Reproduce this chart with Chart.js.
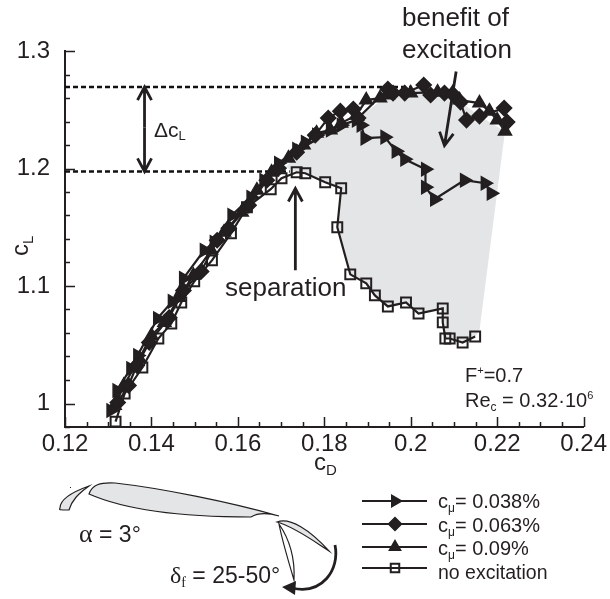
<!DOCTYPE html>
<html>
<head>
<meta charset="utf-8">
<style>
  html, body { margin: 0; padding: 0; background: #fff; }
  canvas { display: block; }
</style>
<script src="https://cdn.jsdelivr.net/npm/chart.js@4"></script>
</head>
<body>
<canvas id="grafico" width="610" height="599"></canvas>
<script>
// series (cD, cL)
const cd038 = [0.1306, 0.132, 0.1352, 0.1368, 0.1414, 0.1448, 0.1474, 0.1522, 0.1545, 0.1586, 0.163, 0.166, 0.1694, 0.1736, 0.1756, 0.1782, 0.1814, 0.1839, 0.1874, 0.1885, 0.1894, 0.194, 0.1966, 0.1986, 0.2034, 0.2034, 0.2055, 0.2124, 0.2172, 0.2186];
const cl038 = [0.994, 1.011, 1.0298, 1.0408, 1.0724, 1.0869, 1.1065, 1.1304, 1.1372, 1.1602, 1.1755, 1.19, 1.2045, 1.2164, 1.2224, 1.2284, 1.2327, 1.2369, 1.2412, 1.2369, 1.2258, 1.2267, 1.2147, 1.2079, 1.1994, 1.1841, 1.1738, 1.19, 1.1875, 1.1789];

const cd063 = [0.1322, 0.1347, 0.1366, 0.1395, 0.1441, 0.1474, 0.1515, 0.1552, 0.1579, 0.1625, 0.1667, 0.1694, 0.1736, 0.1779, 0.1809, 0.1837, 0.1867, 0.1878, 0.1947, 0.1959, 0.1986, 0.203, 0.2046, 0.2078, 0.2097, 0.2115, 0.2129, 0.2159, 0.2216, 0.2223];
const cl063 = [1.0008, 1.0153, 1.0323, 1.0519, 1.0732, 1.0962, 1.1124, 1.1389, 1.1491, 1.1687, 1.19, 1.2003, 1.2139, 1.2284, 1.2429, 1.2488, 1.2506, 1.2429, 1.2676, 1.2642, 1.2642, 1.271, 1.2625, 1.2642, 1.2633, 1.2565, 1.2412, 1.2446, 1.2514, 1.2395];

const cd090 = [0.1315, 0.1336, 0.1372, 0.14, 0.143, 0.1464, 0.1497, 0.1538, 0.1568, 0.1609, 0.1644, 0.1678, 0.1717, 0.1752, 0.1782, 0.1814, 0.1839, 0.1874, 0.1897, 0.1929, 0.1947, 0.2, 0.2062, 0.2097, 0.2113, 0.2159, 0.2182, 0.22, 0.2218];
const cl090 = [0.9982, 1.0153, 1.0383, 1.0579, 1.069, 1.0903, 1.109, 1.1304, 1.1457, 1.1627, 1.1815, 1.1968, 1.2088, 1.2199, 1.2301, 1.2327, 1.2386, 1.2454, 1.2582, 1.2599, 1.2625, 1.2642, 1.265, 1.2642, 1.2582, 1.2557, 1.2488, 1.2412, 1.2318];

const cdSem = [0.1317, 0.1338, 0.1379, 0.1416, 0.1446, 0.1469, 0.1499, 0.154, 0.1584, 0.1621, 0.1676, 0.1701, 0.1736, 0.1756, 0.1802, 0.1839, 0.183, 0.186, 0.1897, 0.1917, 0.1947, 0.1989, 0.2018, 0.2074, 0.2074, 0.208, 0.209, 0.212, 0.2149];
const clSem = [0.9846, 1.0084, 1.0306, 1.0553, 1.0681, 1.086, 1.1039, 1.1218, 1.1448, 1.167, 1.1824, 1.1917, 1.1968, 1.196, 1.1883, 1.1832, 1.15, 1.1099, 1.1022, 1.092, 1.0826, 1.086, 1.0766, 1.0809, 1.069, 1.0553, 1.0553, 1.0519, 1.057];

// gray area between the excited and the unexcited polars
const cdArea = [0.171, 0.1782, 0.1874, 0.1947, 0.203, 0.2115, 0.2159, 0.2218, 0.2159, 0.2149, 0.212, 0.209, 0.208, 0.2074, 0.2074, 0.2018, 0.1989, 0.1947, 0.1917, 0.1897, 0.186, 0.183, 0.1839, 0.1802, 0.1756, 0.1736];
const clArea = [1.201, 1.2284, 1.2412, 1.2625, 1.268, 1.2565, 1.2446, 1.2318, 1.0621, 1.057, 1.0519, 1.0553, 1.0553, 1.069, 1.0809, 1.0766, 1.086, 1.0826, 1.092, 1.1022, 1.1099, 1.15, 1.1832, 1.1883, 1.196, 1.1968];

const rotulosLegenda = ["0.038%", "0.063%", "0.09%", "no excitation"];
const clMax = 1.2693, clSeparacao = 1.1975;
const corTraco = "#231f20", corArea = "#e4e5e7";

function pares(xs, ys) {
  return xs.map((x, i) => ({ x, y: ys[i] }));
}

function serie(label, xs, ys, estilo, ordem) {
  return {
    label,
    data: pares(xs, ys),
    showLine: true,
    borderColor: corTraco,
    borderWidth: 2.2,
    tension: 0,
    fill: false,
    pointStyle: estilo.forma,
    pointRotation: estilo.rotacao || 0,
    pointRadius: estilo.raio,
    pointBorderWidth: estilo.borda,
    pointBorderColor: corTraco,
    pointBackgroundColor: estilo.vazio ? "rgba(0,0,0,0)" : corTraco,
    order: ordem,
  };
}

function linhaTracejada(xFim, y) {
  return {
    data: pares([0.12, xFim], [y, y]),
    showLine: true,
    borderColor: "#111",
    borderWidth: 2.4,
    borderDash: [5, 3],
    pointRadius: 0,
    fill: false,
    order: 8,
  };
}

// text with sub and superscripts: [text, size, shift]
function textoMisto(ctx, x, y, partes, familia) {
  ctx.textAlign = "left";
  ctx.textBaseline = "alphabetic";
  ctx.fillStyle = corTraco;
  partes.forEach(([txt, tam, dy, fam]) => {
    ctx.font = `${tam}px ${fam || familia || '"Liberation Sans"'}`;
    ctx.fillText(txt, x, y + (dy || 0));
    x += ctx.measureText(txt).width;
  });
}

function seta(ctx, x1, y1, x2, y2, asa, comp) {
  const ang = Math.atan2(y2 - y1, x2 - x1);
  ctx.beginPath();
  ctx.moveTo(x1, y1);
  ctx.lineTo(x2, y2);
  ctx.moveTo(x2 - comp * Math.cos(ang) - asa * Math.sin(ang), y2 - comp * Math.sin(ang) + asa * Math.cos(ang));
  ctx.lineTo(x2, y2);
  ctx.lineTo(x2 - comp * Math.cos(ang) + asa * Math.sin(ang), y2 - comp * Math.sin(ang) - asa * Math.cos(ang));
  ctx.stroke();
}

const marcasInternas = {
  id: "marcasInternas",
  afterDatasetsDraw(chart) {
    const { ctx, scales, chartArea } = chart;
    ctx.save();
    ctx.strokeStyle = corTraco;
    ctx.lineWidth = 1.5;
    ctx.beginPath();
    scales.x.ticks.forEach((t) => {
      const px = Math.round(scales.x.getPixelForValue(t.value)) + 0.5;
      ctx.moveTo(px, chartArea.bottom);
      ctx.lineTo(px, chartArea.bottom - (t.label ? 10 : 5));
    });
    scales.y.ticks.forEach((t) => {
      const py = Math.round(scales.y.getPixelForValue(t.value)) + 0.5;
      ctx.moveTo(chartArea.left, py);
      ctx.lineTo(chartArea.left + (t.label ? 10 : 5), py);
    });
    ctx.stroke();
    ctx.restore();
  },
};

const anotacoes = {
  id: "anotacoes",
  afterDraw(chart) {
    const { ctx, scales } = chart;
    const X = (v) => scales.x.getPixelForValue(v);
    const Y = (v) => scales.y.getPixelForValue(v);
    ctx.save();
    ctx.strokeStyle = corTraco;
    ctx.lineCap = "butt";
    ctx.lineJoin = "miter";

    // arrows
    ctx.lineWidth = 2.8;
    seta(ctx, X(0.1384), Y(1.235), X(0.1384), Y(clMax), 7, 13);
    seta(ctx, X(0.1384), Y(1.235), X(0.1384), Y(clSeparacao), 7, 13);
    seta(ctx, X(0.1733), Y(1.1133), X(0.1733), Y(1.183), 7, 13);
    seta(ctx, X(0.2105), Y(1.2826), X(0.2078), Y(1.2195), 7, 13);

    // texts on the plot
    textoMisto(ctx, 402, 26, [["benefit of", 26]]);
    textoMisto(ctx, 402, 58, [["excitation", 26]]);
    textoMisto(ctx, 225, 296, [["separation", 26]]);
    textoMisto(ctx, 154, 137, [["Δc", 21], ["L", 13, 3]]);
    textoMisto(ctx, 465, 382, [["F", 20], ["+", 11, -8], ["=0.7", 20]]);
    textoMisto(ctx, 465, 407, [["Re", 20], ["c", 12, 4], [" = 0.32·10", 20], ["6", 11, -8]]);

    // axis titles
    textoMisto(ctx, 314, 470, [["c", 24], ["D", 15, 5]]);
    ctx.save();
    ctx.translate(28, 256);
    ctx.rotate(-Math.PI / 2);
    textoMisto(ctx, 0, 0, [["c", 24], ["L", 15, 5]]);
    ctx.restore();

    desenharLegenda(chart);
    desenharPerfil(ctx);
    ctx.restore();
  },
};

function desenharLegenda(chart) {
  const { ctx } = chart;
  const ys = [501, 524, 547, 568];
  const bases = [508, 532, 555, 579];
  const series = chart.data.datasets.filter((d) => d.label);
  series.forEach((d, i) => {
    ctx.strokeStyle = corTraco;
    ctx.lineWidth = 2;
    ctx.setLineDash([]);
    ctx.beginPath();
    ctx.moveTo(362, ys[i]);
    ctx.lineTo(427, ys[i]);
    ctx.stroke();
    ctx.fillStyle = d.pointBackgroundColor;
    ctx.lineWidth = d.pointBorderWidth;
    Chart.helpers.drawPoint(ctx, {
      pointStyle: d.pointStyle,
      rotation: d.pointRotation,
      radius: d.pointRadius - 1,
      borderWidth: d.pointBorderWidth,
    }, 395, ys[i]);
    if (i < 3) {
      textoMisto(ctx, 438, bases[i], [["c", 20], ["μ", 12, 4], ["= " + rotulosLegenda[i], 20]]);
    } else {
      textoMisto(ctx, 438, bases[i], [[rotulosLegenda[i], 19.5]]);
    }
  });
}

function caminho(ctx, partida, curvas, preenchimento) {
  ctx.beginPath();
  ctx.moveTo(...partida);
  curvas.forEach((c) => ctx.bezierCurveTo(...c));
  ctx.closePath();
  ctx.fillStyle = preenchimento;
  ctx.fill();
  ctx.stroke();
}

// airfoil sketch under the chart, in page pixels
function desenharPerfil(ctx) {
  ctx.strokeStyle = corTraco;
  ctx.lineWidth = 1.2;
  // slat
  caminho(ctx, [89, 486], [
    [75, 491, 60, 499, 60, 508],
    [59, 510, 59, 510, 69, 510],
    [72, 500, 78, 494, 89, 486],
  ], corArea);
  ctx.fillStyle = corTraco;
  ctx.fillRect(70, 487, 1, 1);
  // main element
  caminho(ctx, [89, 494], [
    [92, 485, 100, 482, 115, 483],
    [160, 488, 230, 502, 279, 516],
    [265, 512, 256, 514, 251, 517],
    [190, 517, 130, 512, 89, 494],
  ], corArea);
  // upper flap
  caminho(ctx, [277, 522], [
    [290, 517, 310, 530, 329, 551],
    [315, 542, 295, 527, 277, 522],
  ], corArea);
  // lower flap
  caminho(ctx, [279, 524], [
    [290, 540, 295, 560, 294, 580],
    [288, 560, 282, 540, 279, 524],
  ], "#fff");
  // flap deflection arrow
  ctx.lineWidth = 2.8;
  ctx.beginPath();
  ctx.moveTo(335, 545);
  ctx.bezierCurveTo(340, 570, 322, 595, 292, 588);
  ctx.stroke();
  ctx.fillStyle = corTraco;
  ctx.beginPath();
  ctx.moveTo(282, 587);
  ctx.lineTo(296, 581);
  ctx.lineTo(295, 595);
  ctx.closePath();
  ctx.fill();

  textoMisto(ctx, 79, 542, [["α", 26, 0, '"Liberation Serif"'], [" = 3°", 23]]);
  textoMisto(ctx, 170, 583, [["δ", 24, 0, '"Liberation Serif"'], ["f", 14, 4, '"Liberation Serif"'], [" = 25-50°", 23]]);
}

Chart.defaults.font.family = '"Liberation Sans"';
Chart.defaults.color = corTraco;

new Chart(document.getElementById("grafico"), {
  type: "scatter",
  data: {
    datasets: [
      {
        data: pares(cdArea, clArea),
        showLine: true,
        borderWidth: 0,
        borderColor: corArea,
        backgroundColor: corArea,
        pointRadius: 0,
        fill: "shape",
        order: 9,
      },
      linhaTracejada(0.2, clMax),
      linhaTracejada(0.172, clSeparacao),
      serie("cmu038", cd038, cl038, { forma: "triangle", rotacao: 90, raio: 7.5, borda: 1.5 }, 2),
      serie("cmu063", cd063, cl063, { forma: "rectRot", raio: 7.5, borda: 1.5 }, 1),
      serie("cmu090", cd090, cl090, { forma: "triangle", raio: 7.5, borda: 1.5 }, 3),
      serie("sem", cdSem, clSem, { forma: "rect", raio: 7, borda: 2, vazio: true }, 4),
    ],
  },
  options: {
    responsive: false,
    animation: false,
    layout: { padding: { top: 51, right: 23 } },
    plugins: { legend: { display: false }, tooltip: { enabled: false } },
    scales: {
      x: {
        type: "linear",
        min: 0.12,
        max: 0.24,
        afterFit: (s) => { s.height = 172; },
        grid: { display: false, drawTicks: false },
        border: { color: corTraco, width: 2 },
        ticks: {
          stepSize: 0.005,
          autoSkip: false,
          maxRotation: 0,
          padding: 3,
          font: { size: 24 },
          color: corTraco,
          callback: (v) => {
            const n = v / 0.02;
            return Math.abs(n - Math.round(n)) < 1e-6 ? String(parseFloat(v.toFixed(2))) : "";
          },
        },
      },
      y: {
        type: "linear",
        min: 0.98,
        max: 1.3,
        afterFit: (s) => { s.width = 65; },
        grid: { display: false, drawTicks: false },
        border: { color: corTraco, width: 2 },
        ticks: {
          stepSize: 0.02,
          autoSkip: false,
          padding: 15,
          font: { size: 24 },
          color: corTraco,
          callback: (v) => {
            const n = v / 0.1;
            return Math.abs(n - Math.round(n)) < 1e-6 ? String(parseFloat(v.toFixed(1))) : "";
          },
        },
      },
    },
  },
  plugins: [marcasInternas, anotacoes],
});
</script>
</body>
</html>
